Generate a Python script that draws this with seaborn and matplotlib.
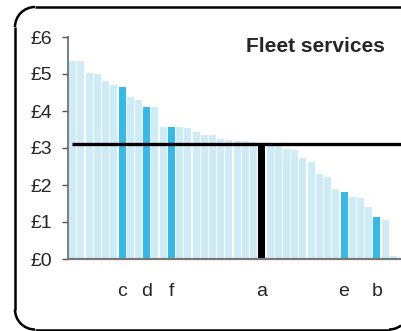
import matplotlib
matplotlib.use('Agg')
import matplotlib.pyplot as plt
from matplotlib.patches import Arc
import pandas
import seaborn as sns

# prices per fleet, sorted high to low
prices = [5.36, 5.34, 5.04, 4.99, 4.82, 4.69, 4.66, 4.39, 4.31, 4.12,
          4.12, 3.58, 3.58, 3.58, 3.53, 3.42, 3.34, 3.34, 3.23, 3.21,
          3.20, 3.18, 3.15, 3.10, 3.05, 3.05, 2.97, 2.95, 2.73, 2.62,
          2.30, 2.22, 1.89, 1.81, 1.68, 1.65, 1.41, 1.14, 1.05, 0.08]
highlight_index = [6, 9, 12, 23, 33, 37]
highlight_label = ['c', 'd', 'f', 'a', 'e', 'b']
average = 3.12
y_ticks = [0, 1, 2, 3, 4, 5, 6]
title = 'Fleet services'

sns.set_style('white')
plt.rcParams['font.family'] = ['Liberation Sans', 'DejaVu Sans']

data = pandas.DataFrame({'bar': range(len(prices)), 'price': prices})
data['kind'] = 'other'
for i, lab in zip(highlight_index, highlight_label):
    data.loc[i, 'kind'] = 'own' if lab == 'a' else 'peer'

fig = plt.figure(figsize=(4.01, 3.31), dpi=100)
ax = fig.add_axes([68 / 401, 72 / 331, 333 / 401, 222 / 331])
sns.barplot(data=data, x='bar', y='price', hue='kind', dodge=False,
            palette={'other': '#cdecf8', 'peer': '#35b9e9', 'own': '#000000'},
            width=0.85, saturation=1, legend=False, linewidth=0, ax=ax)
ax.hlines(average, -0.1, 40, color='black', linewidth=2.4, zorder=5)

ax.set_xlim(-0.58, 39.93)
ax.set_ylim(0, 6)
ax.set_xlabel('')
ax.set_ylabel('')
ax.set_yticks(y_ticks, ['£%d' % v for v in y_ticks])
ax.set_xticks(highlight_index, highlight_label)
ax.tick_params(axis='x', length=0, pad=17, labelsize=14)
ax.tick_params(axis='y', length=4.3, width=1, color='#555555', pad=7, labelsize=14, left=True)
for side in ['top', 'right']:
    ax.spines[side].set_visible(False)
ax.spines['left'].set_color('#666666')
ax.spines['left'].set_linewidth(1.2)
ax.spines['bottom'].set_color('#777777')
ax.spines['bottom'].set_linewidth(1.6)

fig.text(385 / 401, 279 / 331, title, ha='right', va='baseline',
         fontsize=15, fontweight='bold')

# rounded frame round the chart, open on the right where it leaves the canvas
frame_ax = fig.add_axes([0, 0, 1, 1], zorder=-1)
frame_ax.set_xlim(0, 401)
frame_ax.set_ylim(0, 331)
frame_ax.axis('off')
left, bottom, top, r = 15, 1.5, 324, 20
frame_style = dict(color='black', linewidth=1.8)
frame_ax.plot([left + r, 401], [top, top], solid_capstyle='butt', **frame_style)
frame_ax.plot([left, left], [bottom + r, top - r], solid_capstyle='butt', **frame_style)
frame_ax.plot([left + r, 389], [bottom, bottom], solid_capstyle='butt', **frame_style)
frame_ax.add_patch(Arc((left + r, top - r), 2 * r, 2 * r, theta1=90, theta2=180, **frame_style))
frame_ax.add_patch(Arc((left + r, bottom + r), 2 * r, 2 * r, theta1=180, theta2=270, **frame_style))
frame_ax.add_patch(Arc((389, bottom + r), 2 * r, 2 * r, theta1=270, theta2=307, **frame_style))

fig.savefig('out.png', dpi=100)
